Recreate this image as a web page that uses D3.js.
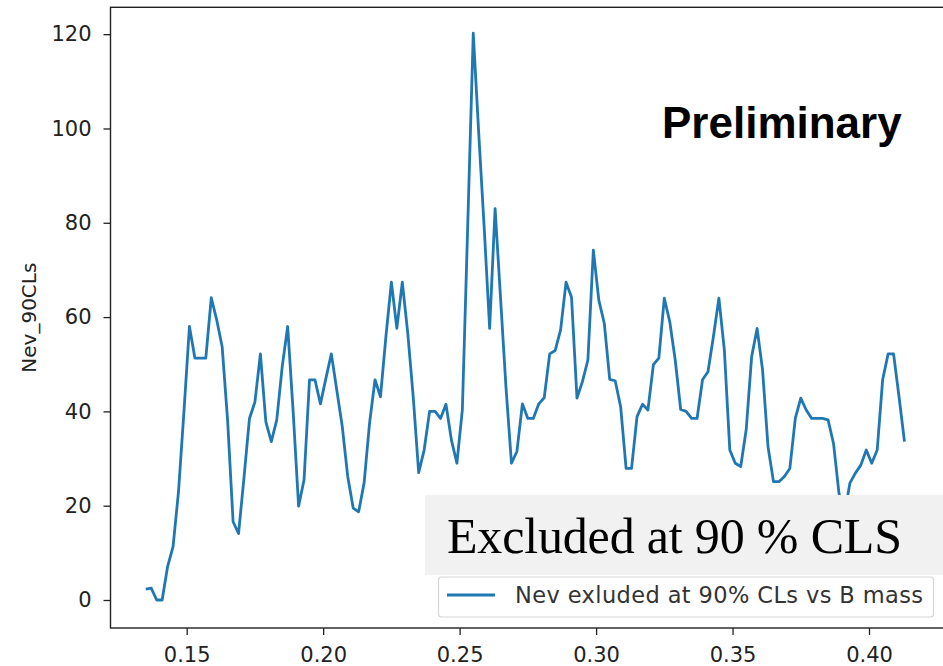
<!DOCTYPE html>
<html>
<head>
<meta charset="utf-8">
<script src="https://cdn.jsdelivr.net/npm/d3@7"></script>
<style>
  body { margin: 0; background: #fff; }
  .tick text { font-family: "DejaVu Sans", sans-serif; font-size: 21px; fill: #222; }
</style>
</head>
<body>
<div id="chart"></div>
<script>
var svgWidth = 943;
var svgHeight = 666;

// B mass values (x)
var bMass = [
  0.135, 0.137, 0.139, 0.141, 0.143, 0.145, 0.147, 0.149, 0.151, 0.153,
  0.155, 0.157, 0.159, 0.161, 0.163, 0.165, 0.167, 0.169, 0.171, 0.173,
  0.175, 0.177, 0.179, 0.181, 0.183, 0.185, 0.187, 0.189, 0.191, 0.193,
  0.195, 0.197, 0.199, 0.201, 0.203, 0.205, 0.207, 0.209, 0.211, 0.213,
  0.215, 0.217, 0.219, 0.221, 0.223, 0.225, 0.227, 0.229, 0.231, 0.233,
  0.235, 0.237, 0.239, 0.241, 0.243, 0.245, 0.247, 0.249, 0.251, 0.253,
  0.255, 0.257, 0.259, 0.261, 0.263, 0.265, 0.267, 0.269, 0.271, 0.273,
  0.275, 0.277, 0.279, 0.281, 0.283, 0.285, 0.287, 0.289, 0.291, 0.293,
  0.295, 0.297, 0.299, 0.301, 0.303, 0.305, 0.307, 0.309, 0.311, 0.313,
  0.315, 0.317, 0.319, 0.321, 0.323, 0.325, 0.327, 0.329, 0.331, 0.333,
  0.335, 0.337, 0.339, 0.341, 0.343, 0.345, 0.347, 0.349, 0.351, 0.353,
  0.355, 0.357, 0.359, 0.361, 0.363, 0.365, 0.367, 0.369, 0.371, 0.373,
  0.375, 0.377, 0.379, 0.381, 0.383, 0.385, 0.387, 0.389, 0.391, 0.393,
  0.395, 0.397, 0.399, 0.401, 0.403, 0.405, 0.407, 0.409, 0.411, 0.413
];

// Nev excluded at 90% CLs
var nev90 = [
  2.3, 2.5, 0, 0, 7.1, 11.3, 23, 40, 58, 51.3,
  51.3, 51.3, 64.1, 59.4, 53.7, 38, 16.6, 14.1, 26, 38.5,
  42, 52.2, 37.8, 33.6, 38.2, 49.5, 58, 40, 19.9, 25.5,
  46.7, 46.7, 41.6, 47, 52.2, 44.5, 36.8, 26.2, 19.5, 18.7,
  24.8, 37.5, 46.7, 43.1, 55.9, 67.4, 57.6, 67.4, 56.6, 43.1,
  27, 31.8, 40, 40, 38.5, 41.5, 33.9, 29, 40.3, 80,
  120.2, 99, 79, 57.6, 83, 64, 45, 29, 31.5, 41.6,
  38.5, 38.5, 41.6, 42.9, 52.2, 52.9, 57.3, 67.4, 64.2, 42.8,
  46.3, 50.9, 74.2, 63.6, 58.7, 46.8, 46.5, 41, 27.9, 27.9,
  38.9, 41.5, 40.3, 49.9, 51.3, 64, 59, 50.9, 40.4, 40,
  38.5, 38.5, 46.7, 48.4, 55.9, 64, 53, 31.8, 29, 28.3,
  36.1, 51.6, 57.6, 48.8, 32.5, 25.1, 25.1, 26.2, 27.9, 38.5,
  42.8, 40.3, 38.5, 38.5, 38.5, 38.2, 33.2, 22.6, 18, 24.8,
  26.9, 28.6, 31.8, 29, 31.8, 46.7, 52.2, 52.2, 43.1, 33.6
];

var xTicks = [0.15, 0.20, 0.25, 0.30, 0.35, 0.40];
var yTicks = [0, 20, 40, 60, 80, 100, 120];

var plot = { left: 110.5, right: 944, top: 7.3, bottom: 628 };

var svg = d3.select("#chart")
  .append("svg")
  .attr("width", svgWidth)
  .attr("height", svgHeight);

var xScale = d3.scaleLinear()
  .domain([0.12208, 0.42748])
  .range([plot.left, plot.right]);

var yScale = d3.scaleLinear()
  .domain([-5.94, 125.7])
  .range([plot.bottom, plot.top]);

var bottomAxis = d3.axisBottom(xScale)
  .tickValues(xTicks)
  .tickFormat(d3.format(".2f"))
  .tickSize(7)
  .tickPadding(12);

var leftAxis = d3.axisLeft(yScale)
  .tickValues(yTicks)
  .tickFormat(d3.format("d"))
  .tickSize(7)
  .tickPadding(12);

var xAxisG = svg.append("g")
  .attr("transform", `translate(0, ${plot.bottom})`)
  .call(bottomAxis);

var yAxisG = svg.append("g")
  .attr("transform", `translate(${plot.left}, 0)`)
  .call(leftAxis);

[xAxisG, yAxisG].forEach(function(g) {
  g.select(".domain").remove();
  g.selectAll(".tick line").attr("stroke", "#222").attr("stroke-width", 1.3);
});

// frame
svg.append("rect")
  .attr("x", plot.left)
  .attr("y", plot.top)
  .attr("width", plot.right - plot.left)
  .attr("height", plot.bottom - plot.top)
  .attr("fill", "none")
  .attr("stroke", "#222")
  .attr("stroke-width", 1.4);

var points = bMass.map(function(m, i) { return { m: m, n: nev90[i] }; });

var line = d3.line()
  .x(d => xScale(d.m))
  .y(d => yScale(d.n));

svg.append("path")
  .datum(points)
  .attr("d", line)
  .attr("fill", "none")
  .attr("stroke", "#1f77b4")
  .attr("stroke-width", 2.8)
  .attr("stroke-linejoin", "round");

// y axis label
svg.append("text")
  .attr("transform", `translate(36, ${(plot.top + plot.bottom) / 2}) rotate(-90)`)
  .attr("text-anchor", "middle")
  .style("font-family", "DejaVu Sans, sans-serif")
  .style("font-size", "20px")
  .style("fill", "#222")
  .text("Nev_90CLs");

// Preliminary
svg.append("text")
  .attr("x", 662)
  .attr("y", 138)
  .style("font-family", "Liberation Sans, Arial, sans-serif")
  .style("font-weight", "bold")
  .style("font-size", "44px")
  .style("fill", "#000")
  .text("Preliminary");

// legend
var legend = svg.append("g");
legend.append("rect")
  .attr("x", 438.5)
  .attr("y", 577)
  .attr("width", 495)
  .attr("height", 40)
  .attr("rx", 3)
  .attr("fill", "#fff")
  .attr("fill-opacity", 0.85)
  .attr("stroke", "#d6d6d6")
  .attr("stroke-width", 1.2);
legend.append("line")
  .attr("x1", 447).attr("x2", 495)
  .attr("y1", 595).attr("y2", 595)
  .attr("stroke", "#1f77b4")
  .attr("stroke-width", 2.8);
legend.append("text")
  .attr("x", 515)
  .attr("y", 603)
  .attr("textLength", 408)
  .style("font-family", "DejaVu Sans, sans-serif")
  .style("font-size", "22.5px")
  .style("fill", "#333")
  .text("Nev exluded at 90% CLs vs B mass");

// pasted annotation box
svg.append("rect")
  .attr("x", 425)
  .attr("y", 495)
  .attr("width", 520)
  .attr("height", 80)
  .attr("fill", "#f1f1f1");
svg.append("text")
  .attr("x", 447)
  .attr("y", 553)
  .attr("textLength", 455)
  .style("font-family", "Liberation Serif, Times New Roman, serif")
  .style("font-size", "50px")
  .style("fill", "#000")
  .text("Excluded at 90 % CLS");
</script>
</body>
</html>
